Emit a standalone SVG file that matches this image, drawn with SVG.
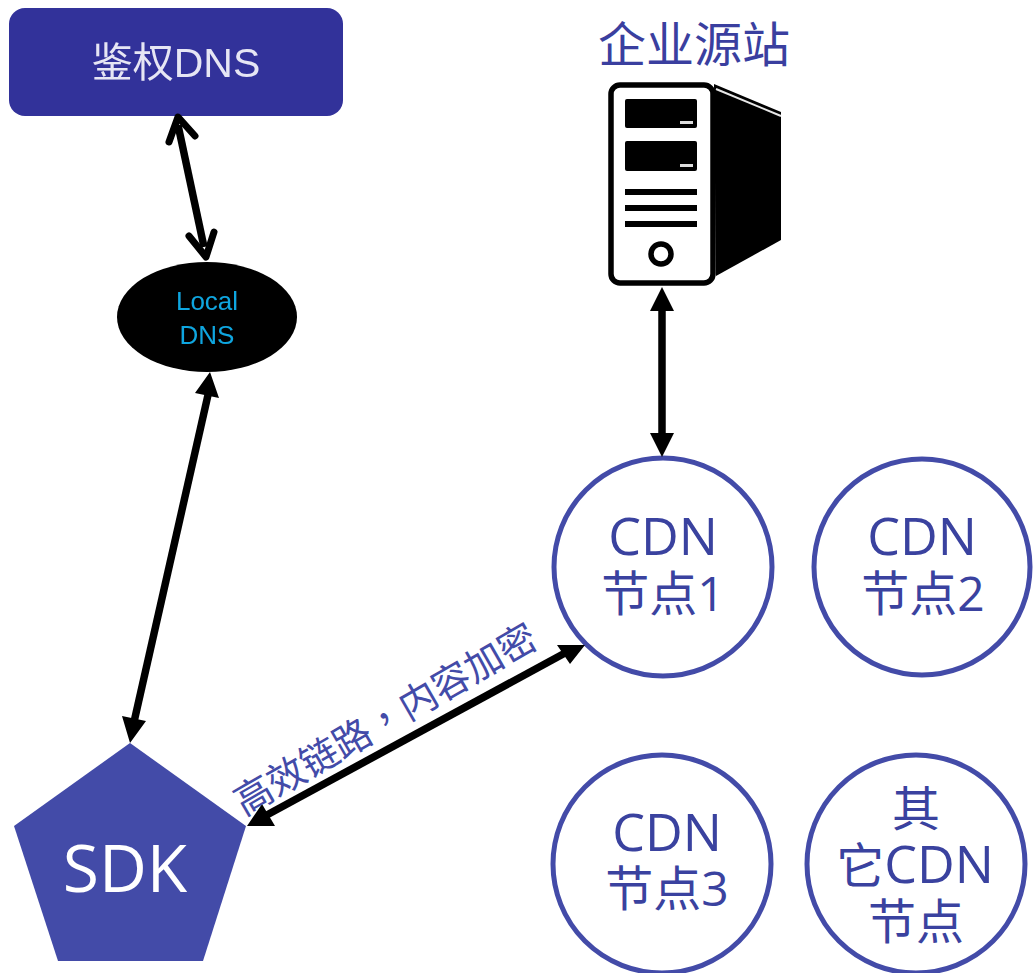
<svg xmlns="http://www.w3.org/2000/svg" width="1033" height="973" viewBox="0 0 1033 973">
<defs>
<filter id="soft" x="-5%" y="-5%" width="110%" height="110%"><feGaussianBlur stdDeviation="0.6"/></filter>
</defs>
<style>
text{font-family:"Open Sans","Noto Sans CJK SC","Liberation Sans",sans-serif;text-anchor:middle}
.cdn{fill:#fff;stroke:#434ba8;stroke-width:5}
.t{fill:#3a429f;font-size:48px}
.w{font-size:52px}
.c{fill:none;stroke:#000;stroke-width:7.5}
.o{fill:none;stroke:#000;stroke-width:7;stroke-linecap:round;stroke-linejoin:round}
.l{fill:#000}
</style>
<rect width="1033" height="973" fill="#fff"/>
<g id="auth-dns" filter="url(#soft)">
<rect x="9" y="8" width="334" height="108" rx="16" fill="#32309a"/>
<text x="176" y="77" font-size="41" style="fill:#e6e6f4;font-family:'Liberation Sans','Noto Sans CJK SC',sans-serif">鉴权DNS</text>
</g>
<g id="local-dns" filter="url(#soft)">
<ellipse cx="207" cy="317" rx="90" ry="55" fill="#050505"/>
<text x="207" y="310" font-size="26" style="fill:#0fa6e0;font-family:'Liberation Sans',sans-serif">Local</text>
<text x="207" y="344" font-size="26" style="fill:#0fa6e0;font-family:'Liberation Sans',sans-serif">DNS</text>
</g>
<g id="origin">
<text x="694" y="62" font-size="48" style="fill:#3a3f9f;font-family:'Noto Sans CJK SC',sans-serif">企业源站</text>
<g filter="url(#soft)">
<path d="M714 84L781 112V240L716 276Z" fill="#000"/>
<path d="M716 89L781 116" fill="none" stroke="#e8e8e8" stroke-width="2"/>
<rect x="611" y="85" width="102" height="198" rx="9" fill="#fff" stroke="#000" stroke-width="5.5"/>
<rect x="625" y="99" width="72" height="29" rx="2" fill="#000"/>
<rect x="625" y="141" width="72" height="30" rx="2" fill="#000"/>
<rect x="680" y="121" width="13" height="3" fill="#ddd"/>
<rect x="680" y="164" width="13" height="3" fill="#ddd"/>
<rect x="625" y="189" width="72" height="6" fill="#000"/>
<rect x="625" y="205" width="72" height="6" fill="#000"/>
<rect x="625" y="221" width="72" height="6" fill="#000"/>
<circle cx="661" cy="254" r="10" fill="#fff" stroke="#000" stroke-width="5.5"/>
</g>
</g>
<g id="cdn1"><circle class="cdn" cx="663" cy="567" r="109"/><text class="t w" x="663" y="555">CDN</text><text class="t" x="663" y="611">节点1</text></g>
<g id="cdn2"><circle class="cdn" cx="922" cy="567" r="108"/><text class="t w" x="922" y="555">CDN</text><text class="t" x="923" y="611">节点2</text></g>
<g id="cdn3"><circle class="cdn" cx="662" cy="864" r="109"/><text class="t w" x="667" y="851">CDN</text><text class="t" x="667" y="906">节点3</text></g>
<g id="cdn-other"><circle class="cdn" cx="916" cy="864" r="109"/><text class="t" x="916" y="826">其</text><text class="t" x="915" y="883">它<tspan class="w">CDN</tspan></text><text class="t" x="916" y="939">节点</text></g>
<g id="sdk">
<path d="M130 743L246 826L203 961H58L14 826Z" fill="#434ba8"/>
<text x="125" y="892" font-size="66" fill="#fff">SDK</text>
</g>
<g id="connectors">
<path class="c" d="M178 125L204 247"/>
<path class="o" d="M169 142L178 117L195 136M189 236L206 257L214 232"/>
<path class="c" d="M208 395L134 722"/>
<path class="l" d="M210 372L219 398L195 393ZM130 743L122 716L146 721Z"/>
<path class="c" d="M662 305V442"/>
<path class="l" d="M662 287L674 311H650ZM662 457L650 433H674Z"/>
<path class="c" d="M265 816L565 653"/>
<path class="l" d="M247 826L262 804L275 826ZM585 645L570 664L557 645Z"/>
</g>
<text id="link-label" x="0" y="0" font-size="38" transform="translate(392 731) rotate(-30)" style="fill:#434ba8">高效链路<tspan style="font-family:'Noto Sans CJK TC',sans-serif">，</tspan>内容加密</text>
</svg>
